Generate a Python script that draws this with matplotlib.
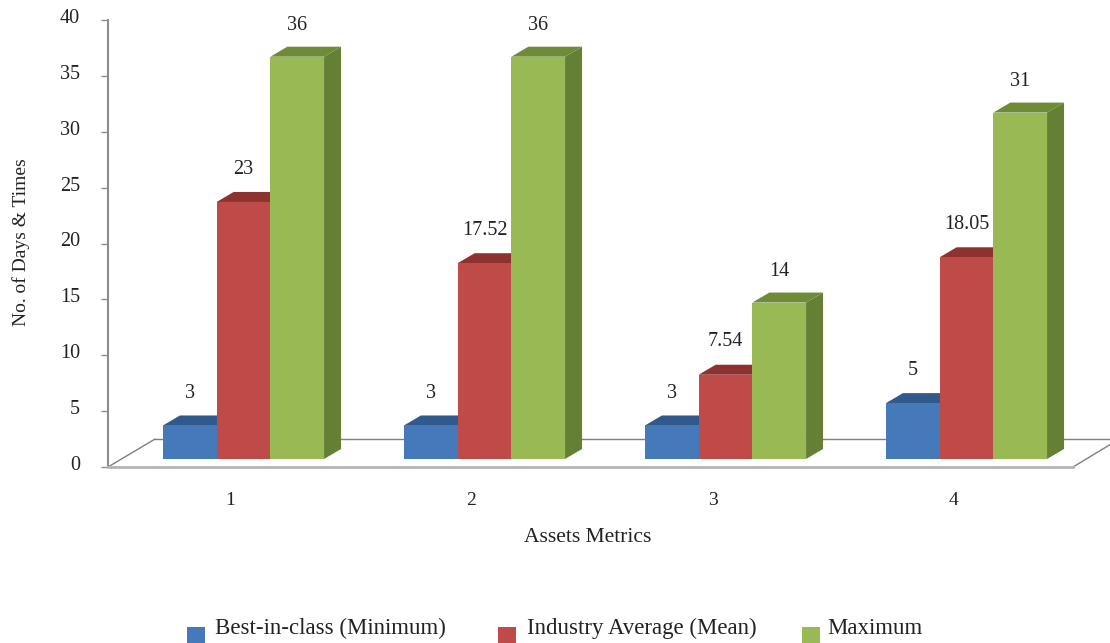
import matplotlib
matplotlib.use('Agg')
import matplotlib.pyplot as plt
from matplotlib.patches import Polygon, Rectangle
from matplotlib.transforms import ScaledTranslation

CATEGORIES = [1, 2, 3, 4]
BEST = [3, 3, 3, 5]
AVERAGE = [23, 17.52, 7.54, 18.05]
MAXIMUM = [36, 36, 14, 31]
BEST_LABELS = ['3', '3', '3', '5']
AVERAGE_LABELS = ['23', '17.52', '7.54', '18.05']
MAXIMUM_LABELS = ['36', '36', '14', '31']
Y_TICKS = [0, 5, 10, 15, 20, 25, 30, 35, 40]
SERIES_NAMES = ['Best-in-class (Minimum)', 'Industry Average (Mean)', 'Maximum']

# front, top, side shades
BLUE = ('#4679BA', '#30598C', '#2C5482')
RED = ('#BE4B48', '#8E3230', '#8E3230')
GREEN = ('#98B954', '#6E8C38', '#657F35')

W, H = 1110, 643
PX_X = 241.0    # pixels per category
PX_Y = 11.17    # pixels per y unit
BAR_W = 53.7 / PX_X
DX = 17 / PX_X
DY = 10 / PX_Y
BASE = 8 / PX_Y
TEXT = '#222222'

plt.rcParams['font.family'] = ['Liberation Serif', 'DejaVu Serif']

fig = plt.figure(figsize=(W / 100, H / 100), dpi=100)
ax_left, ax_right, ax_top, ax_bottom = 108, 1110, 20, 467
ax = fig.add_axes([ax_left / W, 1 - ax_bottom / H, (ax_right - ax_left) / W, (ax_bottom - ax_top) / H])
ax.set_xlim(1 + (ax_left - 243.5) / PX_X, 1 + (ax_right - 243.5) / PX_X)
ax.set_ylim(0, 40)
ax.patch.set_visible(False)


def draw_bar(x, value, colors, zorder):
    left, right = x, x + BAR_W
    top = BASE + value
    # side and top first, then the front face over them
    ax.add_patch(Polygon([(right, BASE), (right + DX, BASE + DY), (right + DX, top + DY), (right, top)],
                         fc=colors[2], ec='none', zorder=zorder))
    ax.add_patch(Polygon([(left, top), (left + DX, top + DY), (right + DX, top + DY), (right, top)],
                         fc=colors[1], ec='none', zorder=zorder))
    ax.add_patch(Rectangle((left, BASE), BAR_W, value, fc=colors[0], ec='none', zorder=zorder + 0.5))


# 3d floor behind the bars
floor_back = 2.5
x0, x1 = ax.get_xlim()
floor_dx = 47 / PX_X
ax.plot([x0, x0 + floor_dx], [0, floor_back], color='#7f7f7f', lw=1, clip_on=False, zorder=1)
ax.plot([x0 + floor_dx, x1], [floor_back, floor_back], color='#7f7f7f', lw=1, clip_on=False, zorder=1)
ax.plot([x1 - 37 / PX_X, x1], [0, floor_back * 0.8], color='#7f7f7f', lw=1, clip_on=False, zorder=1)

for i, cat in enumerate(CATEGORIES):
    start = cat - 1.5 * BAR_W
    draw_bar(start, BEST[i], BLUE, 2)
    draw_bar(start + BAR_W, AVERAGE[i], RED, 3)
    draw_bar(start + 2 * BAR_W, MAXIMUM[i], GREEN, 4)
    ax.text(start + 0.5 * BAR_W, BEST[i] + 3.6, BEST_LABELS[i], ha='center', va='center', fontsize=14.5, color=TEXT, zorder=6)
    ax.text(start + 1.5 * BAR_W, AVERAGE[i] + 3.65, AVERAGE_LABELS[i], ha='center', va='center', fontsize=14.5, color=TEXT, zorder=6)
    ax.text(start + 2.5 * BAR_W, MAXIMUM[i] + 3.5, MAXIMUM_LABELS[i], ha='center', va='center', fontsize=14.5, color=TEXT, zorder=6)

for side in ('top', 'right'):
    ax.spines[side].set_visible(False)
ax.spines['left'].set_color('#8c8c8c')
ax.spines['left'].set_linewidth(1.5)
ax.spines['bottom'].set_color('#b4b4b4')
ax.spines['bottom'].set_linewidth(2)
ax.spines['bottom'].set_bounds(x0, x1 - 37 / PX_X)

ax.set_yticks(Y_TICKS)
ax.tick_params(axis='y', length=5, width=1, color='#8c8c8c', labelsize=14.5, pad=15, labelcolor=TEXT)
# y labels sit a few pixels above their ticks
for lab in ax.get_yticklabels():
    lab.set_transform(lab.get_transform() + ScaledTranslation(0, 4 / 100, fig.dpi_scale_trans))
ax.set_xticks([c - 13 / PX_X for c in CATEGORIES])
ax.set_xticklabels(CATEGORIES)
ax.tick_params(axis='x', length=0, labelsize=14, pad=18, labelcolor=TEXT)

fig.text(21 / W, 1 - 242 / H, 'No. of Days & Times', rotation=90, ha='center', va='center', fontsize=14, color=TEXT)
fig.text(588 / W, 1 - 537 / H, 'Assets Metrics', ha='center', va='center', fontsize=15.5, color=TEXT)

# legend placed by hand, swatches sit slightly below the text
for name, colors, sx, tx in zip(SERIES_NAMES, (BLUE, RED, GREEN), (187, 498, 802), (215, 527, 827)):
    fig.add_artist(Rectangle((sx / W, 1 - 643 / H), 18 / W, 16 / H, fc=colors[0], ec='none', transform=fig.transFigure))
    fig.text(tx / W, 1 - 628 / H, name, ha='left', va='center', fontsize=16.5, color=TEXT)

plt.savefig('out.png', dpi=100)
